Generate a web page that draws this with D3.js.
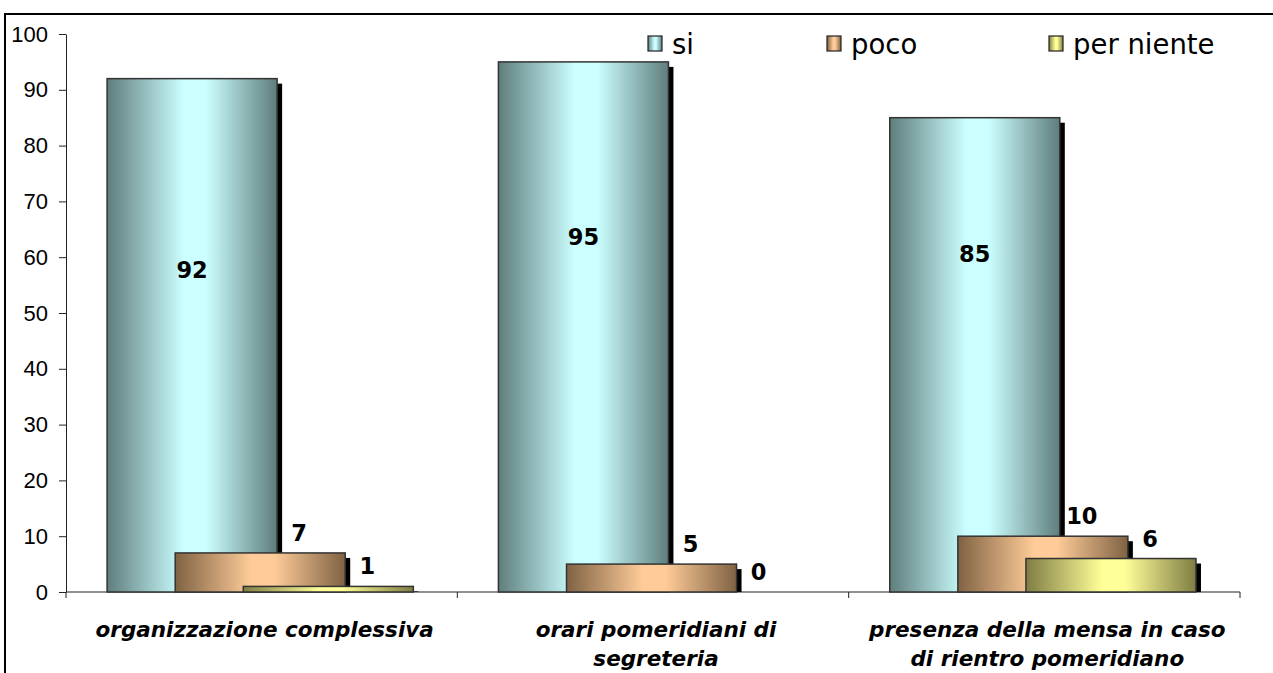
<!DOCTYPE html>
<html><head><meta charset="utf-8">
<script src="https://cdn.jsdelivr.net/npm/d3@7"></script>
<style>html,body{margin:0;padding:0;background:#fff;}svg{display:block;}</style>
</head><body>
<script>
const categories = [["organizzazione complessiva"], ["orari pomeridiani di", "segreteria"], ["presenza della mensa in caso", "di rientro pomeridiano"]];
const seriesNames = ["si", "poco", "per niente"];
const siValues = [92, 95, 85];
const pocoValues = [7, 5, 10];
const perNienteValues = [1, 0, 6];
const yTicks = [0, 10, 20, 30, 40, 50, 60, 70, 80, 90, 100];

const W = 1273, H = 673;
const svg = d3.select("body").append("svg").attr("width", W).attr("height", H);
const defs = svg.append("defs");
const palettes = [
  {dark: "#5f7d7d", light: "#ccffff"},
  {dark: "#7f6243", light: "#ffcc99"},
  {dark: "#7f7d43", light: "#ffff99"}
];
palettes.forEach((p, i) => {
  const g = defs.append("linearGradient").attr("id", "g" + i).attr("x1", "0").attr("x2", "1").attr("y1", "0").attr("y2", "0");
  g.append("stop").attr("offset", "0").attr("stop-color", p.dark);
  g.append("stop").attr("offset", "0.45").attr("stop-color", p.light);
  g.append("stop").attr("offset", "0.58").attr("stop-color", p.light);
  g.append("stop").attr("offset", "1").attr("stop-color", p.dark);
});

// frame
svg.append("rect").attr("x", 5).attr("y", 14).attr("width", 1400).attr("height", 800)
  .attr("fill", "none").attr("stroke", "#000").attr("stroke-width", 2);

const x = d3.scaleBand().domain(d3.range(categories.length)).range([66, 1240]).padding(0);
const y = d3.scaleLinear().domain([0, 100]).range([592, 34]);
const series = [siValues, pocoValues, perNienteValues];

// y axis
const yAxis = svg.append("g").attr("transform", "translate(66,0)")
  .call(d3.axisLeft(y).tickValues(yTicks).tickSize(7).tickPadding(11).tickSizeOuter(0));
yAxis.select(".domain").attr("stroke", "#222");
yAxis.selectAll(".tick line").attr("stroke", "#222");
yAxis.selectAll("text").attr("font-family", "'Liberation Sans', Arial, sans-serif").attr("font-size", 22).attr("fill", "#000");

// x axis line + ticks
const xg = svg.append("g");
xg.append("line").attr("x1", 66).attr("x2", 1240).attr("y1", y(0)).attr("y2", y(0)).attr("stroke", "#222");
const bounds = d3.range(categories.length).map(i => x(i)).concat([x(categories.length - 1) + x.bandwidth()]);
xg.selectAll("line.tk").data(bounds).enter().append("line").attr("class", "tk")
  .attr("x1", d => d).attr("x2", d => d).attr("y1", y(0)).attr("y2", y(0) + 6).attr("stroke", "#222");

const bw = x.bandwidth();
const barW = bw * 0.4345;
const barX = (c, s) => x(c) + bw * 0.105 + s * bw * 0.174;

const plot = svg.append("g");
series.forEach((vals, s) => {
  vals.forEach((v, c) => {
    if (v <= 0) return;
    const top = y(v), bx = barX(c, s);
    plot.append("rect").attr("x", bx + 5).attr("y", top + 5).attr("width", barW)
      .attr("height", Math.max(0, y(0) - top - 5)).attr("fill", "#000");
    plot.append("rect").attr("x", bx).attr("y", top).attr("width", barW).attr("height", y(0) - top)
      .attr("fill", `url(#g${s})`).attr("stroke", "#333").attr("stroke-width", 1.5);
  });
});

// labels
const labelFont = "'DejaVu Sans', Verdana, sans-serif";
const siLabelAnchor = [56.3, 62.2, 59.1];
siValues.forEach((v, c) => {
  svg.append("text").attr("x", barX(c, 0) + barW / 2).attr("y", y(siLabelAnchor[c]))
    .attr("text-anchor", "middle").attr("font-family", labelFont).attr("font-weight", "bold")
    .attr("font-size", 22.5).text(v);
});
[pocoValues, perNienteValues].forEach((vals, k) => {
  const s = k + 1;
  vals.forEach((v, c) => {
    svg.append("text").attr("x", barX(c, s) + barW / 2 + 39).attr("y", y(v) - 12)
      .attr("text-anchor", "middle").attr("font-family", labelFont).attr("font-weight", "bold")
      .attr("font-size", 22.5).text(v);
  });
});

// category labels
categories.forEach((lines, c) => {
  const t = svg.append("text").attr("text-anchor", "middle").attr("font-family", labelFont)
    .attr("font-weight", "bold").attr("font-style", "italic").attr("font-size", 21.5);
  lines.forEach((ln, i) => {
    t.append("tspan").attr("x", x(c) + bw / 2 + 3).attr("y", 637 + i * 29).text(ln);
  });
});

// legend
const legendX = [648, 827, 1049];
const lg = svg.append("g");
seriesNames.forEach((n, i) => {
  lg.append("rect").attr("x", legendX[i]).attr("y", 36).attr("width", 14).attr("height", 15)
    .attr("fill", `url(#g${i})`).attr("stroke", "#222").attr("stroke-width", 1.2);
  lg.append("text").attr("x", legendX[i] + 24).attr("y", 54).attr("font-family", labelFont)
    .attr("font-size", 27.5).attr("fill", "#000").text(n);
});
</script>
</body></html>
